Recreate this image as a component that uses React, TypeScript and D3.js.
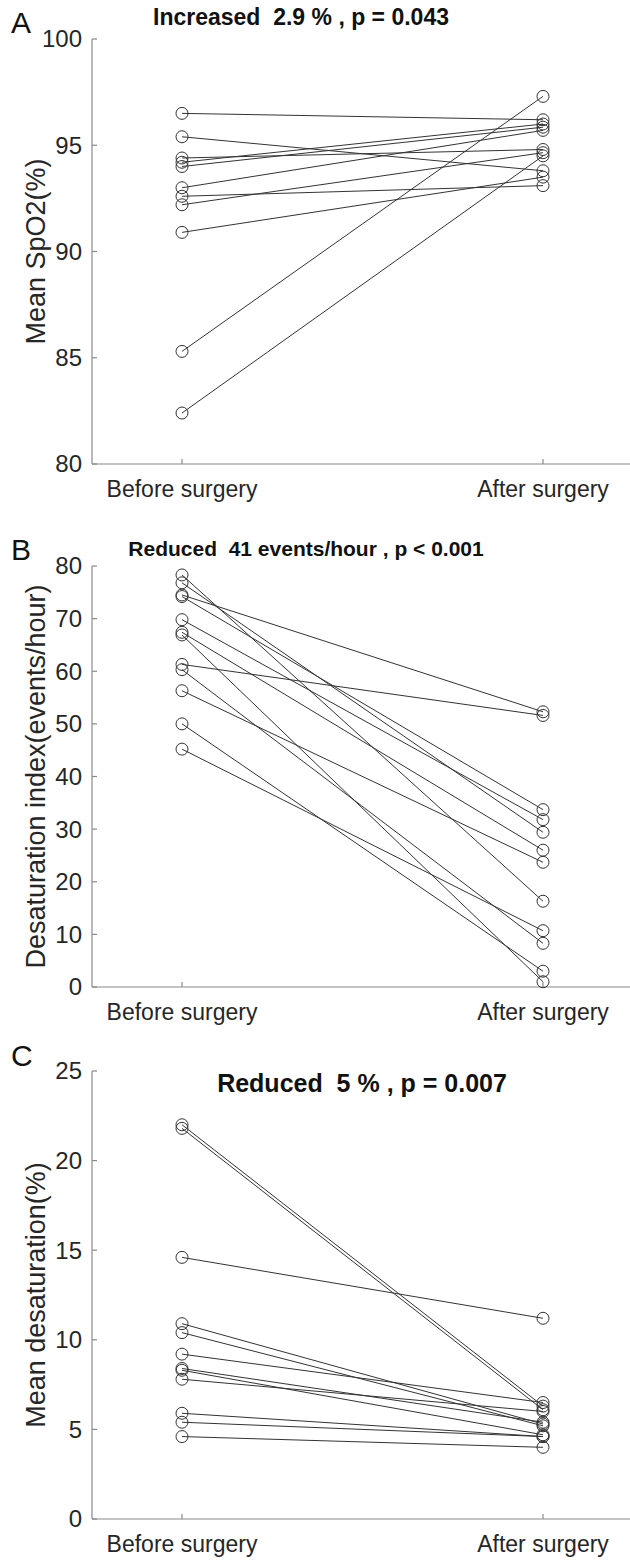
import React from "react";
import * as d3 from "d3";

const categories = ["Before surgery", "After surgery"];

// Panel A: mean SpO2 (%)
const spo2Before = [96.5, 95.4, 94.4, 94.2, 94.0, 93.0, 92.6, 92.2, 90.9, 85.3, 82.4];
const spo2After = [96.2, 93.8, 94.8, 96.0, 95.85, 95.7, 93.1, 94.65, 93.5, 97.3, 94.5];
const spo2Ticks = [80, 85, 90, 95, 100];

// Panel B: desaturation index (events/hour)
const odiBefore = [78.3, 76.8, 74.5, 74.2, 69.8, 67.4, 66.9, 61.3, 60.3, 56.3, 50.0, 45.2];
const odiAfter = [16.3, 29.4, 52.3, 33.7, 31.8, 26.0, 1.0, 51.6, 8.3, 23.7, 3.0, 10.7];
const odiTicks = [0, 10, 20, 30, 40, 50, 60, 70, 80];

// Panel C: mean desaturation (%)
const desatBefore = [22.0, 21.8, 14.6, 10.9, 10.4, 9.2, 8.4, 8.3, 7.8, 5.9, 5.4, 4.6];
const desatAfter = [6.3, 6.1, 11.2, 5.3, 5.2, 6.5, 5.4, 4.7, 6.0, 4.6, 4.6, 4.0];
const desatTicks = [0, 5, 10, 15, 20, 25];

const panelLetters = ["A", "B", "C"];
const panelTitles = [
  "Increased  2.9 % , p = 0.043",
  "Reduced  41 events/hour , p < 0.001",
  "Reduced  5 % , p = 0.007",
];
const yLabels = ["Mean SpO2(%)", "Desaturation index(events/hour)", "Mean desaturation(%)"];

const FONT = "'Liberation Sans', Arial, Helvetica, sans-serif";
const AXIS_X = 92;
const AXIS_RIGHT = 630;
const X_BEFORE = 182;
const X_AFTER = 543;

const panels = [
  { before: spo2Before, after: spo2After, ticks: spo2Ticks, top: 39, bottom: 464, titleY: 25, titleX: 301, titleSize: 23, letterY: 33 },
  { before: odiBefore, after: odiAfter, ticks: odiTicks, top: 566, bottom: 987, titleY: 556, titleX: 306, titleSize: 21, letterY: 560 },
  { before: desatBefore, after: desatAfter, ticks: desatTicks, top: 1071, bottom: 1519, titleY: 1092, titleX: 362, titleSize: 25, letterY: 1066 },
];

function Panel({ p, i }: { p: any; i: number }) {
  const ext = d3.extent(p.ticks as number[]) as [number, number];
  const y = d3.scaleLinear().domain(ext).range([p.bottom, p.top]);
  const x = d3.scalePoint<string>().domain(categories).range([X_BEFORE, X_AFTER]);
  const line = d3
    .line<[string, number]>()
    .x((d) => x(d[0]) as number)
    .y((d) => y(d[1]));
  const pairs = (p.before as number[]).map((b, k) => [
    [categories[0], b],
    [categories[1], p.after[k]],
  ]) as [string, number][][];
  const midY = (p.top + p.bottom) / 2;
  return (
    <g>
      <text x={11} y={p.letterY} fontFamily={FONT} fontSize={30} fill="#111">
        {panelLetters[i]}
      </text>
      <text
        x={p.titleX}
        y={p.titleY}
        textAnchor="middle"
        fontFamily={FONT}
        fontSize={p.titleSize}
        fontWeight="bold"
        fill="#111"
        style={{ whiteSpace: "pre" }}
      >
        {panelTitles[i]}
      </text>
      <text
        transform={`translate(45,${midY}) rotate(-90)`}
        textAnchor="middle"
        fontFamily={FONT}
        fontSize={27}
        fill="#262626"
      >
        {yLabels[i]}
      </text>
      {/* axes */}
      <line x1={AXIS_X} x2={AXIS_X} y1={p.top} y2={p.bottom} stroke="#8a8a8a" strokeWidth={1.2} />
      <line x1={AXIS_X} x2={AXIS_RIGHT} y1={p.bottom} y2={p.bottom} stroke="#8a8a8a" strokeWidth={1.2} />
      {(p.ticks as number[]).map((t) => (
        <g key={t}>
          <line x1={AXIS_X} x2={AXIS_X + 5} y1={y(t)} y2={y(t)} stroke="#8a8a8a" strokeWidth={1.2} />
          <text
            x={AXIS_X - 10}
            y={y(t)}
            dy="0.35em"
            textAnchor="end"
            fontFamily={FONT}
            fontSize={24}
            fill="#262626"
          >
            {t}
          </text>
        </g>
      ))}
      {categories.map((c) => (
        <g key={c}>
          <line x1={x(c)} x2={x(c)} y1={p.bottom} y2={p.bottom - 5} stroke="#8a8a8a" strokeWidth={1.2} />
          <text
            x={x(c)}
            y={p.bottom + 25}
            dy="0.35em"
            textAnchor="middle"
            fontFamily={FONT}
            fontSize={23}
            fill="#262626"
          >
            {c}
          </text>
        </g>
      ))}
      {pairs.map((d, k) => (
        <path key={"l" + k} d={line(d) as string} fill="none" stroke="#333" strokeWidth={1} />
      ))}
      {pairs.map((d, k) => (
        <g key={"m" + k}>
          {d.map((pt, j) => (
            <circle key={j} cx={x(pt[0])} cy={y(pt[1])} r={6} fill="none" stroke="#333" strokeWidth={1} />
          ))}
        </g>
      ))}
    </g>
  );
}

export default function App() {
  return (
    <svg width={630} height={1568} style={{ display: "block", position: "absolute", left: 0, top: 0, background: "#fff" }}>
      <rect width={630} height={1568} fill="#fff" />
      {panels.map((p, i) => (
        <Panel key={i} p={p} i={i} />
      ))}
    </svg>
  );
}
